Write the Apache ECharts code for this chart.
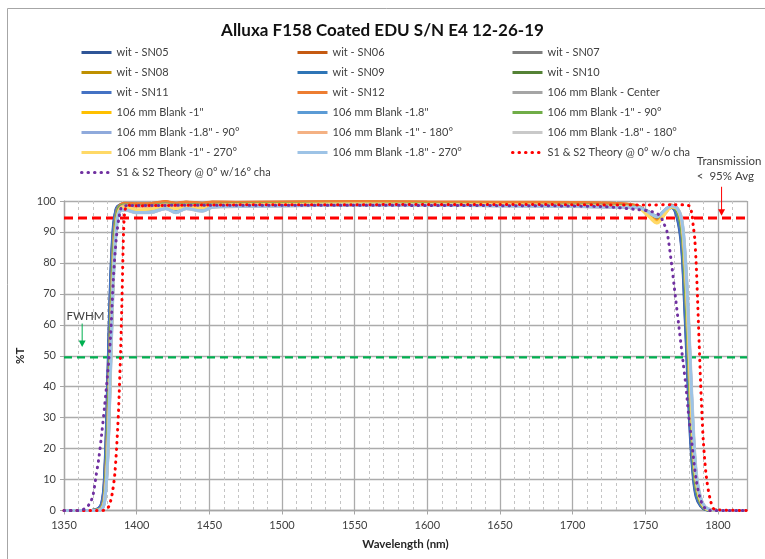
<!DOCTYPE html>
<html><head><meta charset="utf-8">
<script src="https://cdn.jsdelivr.net/npm/echarts@6/dist/echarts.min.js"></script>
<style>html,body{margin:0;padding:0;background:#fff}#c{width:765px;height:559px}</style>
</head><body><div id="c"></div>
<script>
// shared wavelength grid (nm) for the measured scans
const wavelengths = [1350,1365,1372,1376,1378,1380,1382,1384,1386,1388,1392,
  1400,1410,1420,1427,1434,1445,1452,1470,1500,1550,1600,1650,1700,1730,
  1745,1752,1758,1764,1768,1772,1775,1777,1779,1781,1783,1785,1788,1792,1800,1820];

const witSN05 = [0,0,0.3,2.5,12,40,74,92,97.6,98.6,99.0, 98.5,98.6,99.1,98.7,99.0,98.7,99.0,99.0,99.1,99.2,99.1,99.0,98.8,98.6, 97.9,96.3,94.8,96.9,97.9,94.5,85,67,45,24,11,4.5,1.5,0.2,0,0];
const witSN06 = [0,0,0.1,1.2,6,27,60,85,95.5,98.2,99.2, 99.0,99.1,99.7,99.2,99.6,99.2,99.6,99.5,99.6,99.7,99.6,99.5,99.4,99.1, 98.3,95.8,93.6,96.6,98.6,97,91,78,58,35,17,7.5,2.5,0.4,0,0];
const witSN07 = [0,0,0.1,1.0,5.5,26,59,84,95.2,98.1,98.8, 98.5,98.7,99.1,98.7,99.0,98.8,99.0,99.1,99.1,99.2,99.1,99.0,98.9,98.6, 98.1,96.6,95.0,97.2,98.2,96.5,90,77,57,34,16,7,2.5,0.4,0,0];
const witSN08 = [0,0,0.1,1.3,6.5,29,62,86,95.8,98.3,99.1, 98.9,99.0,99.6,99.1,99.5,99.1,99.5,99.4,99.5,99.6,99.5,99.4,99.3,99.0, 98.2,95.6,93.4,96.5,98.5,97.2,92,80,61,38,19,8.5,3,0.5,0,0];
const witSN09 = [0,0,0.2,2.0,10,36,70,90,97.2,98.5,98.9, 98.6,98.7,99.2,98.8,99.1,98.8,99.1,99.1,99.2,99.3,99.2,99.1,98.9,98.7, 98.0,96.5,94.9,97.1,98.1,96.0,88,74,53,31,14,6,2,0.3,0,0];
const witSN10 = [0,0,0.1,1.1,5.8,27,60,85,95.4,98.2,98.8, 98.4,98.6,99.0,98.6,98.9,98.7,98.9,99.0,99.0,99.1,99.0,98.9,98.8,98.5, 98.0,96.5,94.9,97.1,98.1,96.3,89.5,76,56,33,15.5,7,2.4,0.4,0,0];
const witSN11 = [0,0,0.3,2.3,11,38,72,91,97.4,98.5,98.9, 98.6,98.7,99.2,98.8,99.1,98.8,99.1,99.1,99.2,99.2,99.1,99.0,98.9,98.7, 98.0,96.4,94.9,97.0,98.0,95.0,86,69,47,26,12,5,1.8,0.3,0,0];
const witSN12 = [0,0,0.1,1.2,6,28,61,86,95.8,98.4,99.3, 99.1,99.2,99.8,99.3,99.7,99.3,99.7,99.6,99.7,99.8,99.7,99.6,99.5,99.2, 98.4,95.9,93.7,96.7,98.7,97.2,91.5,79,59,36,18,8,2.7,0.5,0,0];
const blankCenter = [0,0,0.1,1.0,5,25,58,84,95,98,98.7, 98.4,98.5,99.0,98.6,98.9,98.6,98.9,98.9,99.0,99.1,99.0,98.9,98.7,98.5, 98.0,96.6,95.1,97.2,98.2,96.8,91,78,58,35,17,7.5,2.6,0.4,0,0];
const blank1 = [0,0,0,0.7,4,19,50,79,93,97.4,98.6, 98.3,98.4,98.9,98.5,98.8,98.5,98.8,98.9,99.0,99.1,99.0,98.9,98.7,98.4, 98.0,95.5,93.3,96.3,98.3,97.3,92.5,81,62,39,20,9,3,0.5,0,0];
const blank18 = [0,0,0,0.6,3.5,17,47,77,92,96.8,97.4, 96.5,96.6,97.8,96.6,97.7,97.0,98.1,98.4,98.6,98.8,98.8,98.6,98.4,98.1, 97.9,96.4,94.9,97.2,98.3,97.5,93.5,84,68,46,25,11.5,4,0.8,0,0];
const blank1_90 = [0,0,0.1,0.9,5,24,57,83,94.8,98,98.7, 98.4,98.5,99.0,98.6,98.9,98.6,98.9,99.0,99.0,99.1,99.0,98.9,98.7,98.5, 98.0,96.4,94.8,97.0,98.1,96.6,90.5,77.5,57.5,34.5,16.5,7.2,2.5,0.4,0,0];
const blank18_90 = [0,0,0,0.5,3.2,16,45,75,91,96.5,97.2, 96.3,96.4,97.6,96.3,97.6,96.8,98.0,98.3,98.5,98.7,98.7,98.5,98.3,98.0, 97.9,96.4,95.0,97.3,98.4,97.6,94,85,69,47,26,12,4,0.8,0,0];
const blank1_180 = [0,0,0,0.6,3.8,18,48,78,92.5,97.2,98.5, 98.2,98.3,98.8,98.4,98.7,98.4,98.7,98.8,98.9,99.0,98.9,98.8,98.6,98.3, 97.9,95.3,93.0,96.2,98.2,97.4,93,82,64,41,21,9.5,3.2,0.6,0,0];
const blank18_180 = [0,0,0,0.5,3,15.5,44,74,90.5,96.3,97.0, 96.2,96.3,97.5,96.2,97.5,96.7,97.9,98.2,98.4,98.6,98.6,98.4,98.2,97.9, 97.8,96.3,94.9,97.2,98.3,97.7,94.5,86,71,49,28,13,4.5,0.9,0,0];
const blank1_270 = [0,0,0,0.6,3.6,17.5,47,77,92,97,98.0, 97.2,97.4,98.4,97.5,98.2,97.8,98.5,98.7,98.8,99.0,98.9,98.8,98.5,98.2, 97.8,95.2,92.9,96.1,98.1,97.5,93.5,83,65,42,22,10,3.4,0.6,0,0];
const blank18_270 = [0,0,0,0.5,3,16,46,76,91,96.5,97.2, 96.3,96.4,97.6,96.3,97.6,96.8,98.0,98.3,98.5,98.7,98.7,98.5,98.3,98.0, 97.9,96.5,95.0,97.3,98.4,97.6,94,85,69,47,26,12,4,0.8,0,0];

// theory curves
const theory0X = [1350,1376,1379,1381,1383,1385,1387,1388,1389,1390,1391,1392,1394,1400,1450,1500,1550,1600,1650,1700,1750,1770,1780,1782,1783,1784,1785,1786,1787,1788,1789,1790,1792,1795,1798,1820];
const theory0Y = [0,0,0.3,1.5,5,12,27,38,52,70,90,97,98.6,98.5,98.7,98.8,98.8,98.9,98.9,98.8,98.7,98.8,98.5,96,92,88,80,68,55,42,31,22,11,3,0.3,0];
const theory16X = [1350,1360,1365,1368,1370,1372,1374,1376,1378,1380,1382,1384,1386,1388,1390,1395,1450,1550,1650,1720,1745,1755,1760,1763,1765,1768,1770,1773,1776,1778,1780,1782,1785,1788,1791,1794,1820];
const theory16Y = [0,0,0.8,2.5,5,11,17,25,34,44,56,75,88,95,98.2,98.5,98.6,98.6,98.5,98.2,97.2,96.5,95.3,92.5,90,80,72,60,48,40,30,22,10,3.5,0.8,0,0];

// reference levels
const avgLevel = 94.5;
const fwhmLevel = 49.5;
const xTicks = {min: 1350, max: 1820, interval: 50};
const yTicks = {min: 0, max: 100, interval: 10};

const measured = [
  ['wit - SN05', witSN05, '#2F5597'],
  ['wit - SN06', witSN06, '#C55A11'],
  ['wit - SN07', witSN07, '#7F7F7F'],
  ['wit - SN08', witSN08, '#BF9000'],
  ['wit - SN09', witSN09, '#2E75B6'],
  ['wit - SN10', witSN10, '#548235'],
  ['wit - SN11', witSN11, '#4472C4'],
  ['wit - SN12', witSN12, '#ED7D31'],
  ['106 mm Blank - Center', blankCenter, '#A5A5A5'],
  ['106 mm Blank -1"', blank1, '#FFC000'],
  ['106 mm Blank -1.8"', blank18, '#5B9BD5'],
  ['106 mm Blank -1" - 90°', blank1_90, '#70AD47'],
  ['106 mm Blank -1.8" - 90°', blank18_90, '#8FAADC'],
  ['106 mm Blank -1" - 180°', blank1_180, '#F4B183'],
  ['106 mm Blank -1.8" - 180°', blank18_180, '#C9C9C9'],
  ['106 mm Blank -1" - 270°', blank1_270, '#FFD966'],
  ['106 mm Blank -1.8" - 270°', blank18_270, '#9DC3E6']
];
const theoryNoCha = 'S1 & S2 Theory @ 0° w/o cha';
const theoryCha = 'S1 & S2 Theory @ 0° w/16° cha';

const legendCols = [
  ['wit - SN05','wit - SN08','wit - SN11','106 mm Blank -1"','106 mm Blank -1.8" - 90°','106 mm Blank -1" - 270°', theoryCha],
  ['wit - SN06','wit - SN09','wit - SN12','106 mm Blank -1.8"','106 mm Blank -1" - 180°','106 mm Blank -1.8" - 270°'],
  ['wit - SN07','wit - SN10','106 mm Blank - Center','106 mm Blank -1" - 90°','106 mm Blank -1.8" - 180°', theoryNoCha]
];
const legendLefts = [80, 296, 511];

const FONT = 'Lato, "Liberation Sans", sans-serif';
const pairs = (xs, ys) => xs.map((x, i) => [x, ys[i]]);

const series = [];
series.push({
  name: '_avg', type: 'line', symbol: 'none', silent: true, z: 1,
  data: [[xTicks.min, avgLevel], [xTicks.max, avgLevel]],
  lineStyle: {color: '#FF0000', width: 2.8, type: [9, 5]}
});
series.push({
  name: '_fwhm', type: 'line', symbol: 'none', silent: true, z: 1,
  data: [[xTicks.min, fwhmLevel], [xTicks.max, fwhmLevel]],
  lineStyle: {color: '#00B050', width: 2.2, type: [8, 5]}
});
measured.forEach(([name, vals, color]) => {
  series.push({
    name, type: 'line', symbol: 'none', smooth: 0.35, z: 2,
    data: pairs(wavelengths, vals),
    itemStyle: {color},
    lineStyle: {color, width: 3}
  });
});
series.push({
  name: theoryNoCha, type: 'line', symbol: 'none', smooth: 0.3, z: 3,
  data: pairs(theory0X, theory0Y),
  itemStyle: {color: '#FF0000'},
  lineStyle: {color: '#FF0000', width: 3, type: [0.5, 6], cap: 'round'}
});
series.push({
  name: theoryCha, type: 'line', symbol: 'none', smooth: 0.3, z: 3,
  data: pairs(theory16X, theory16Y),
  itemStyle: {color: '#7030A0'},
  lineStyle: {color: '#7030A0', width: 3, type: [0.5, 6], cap: 'round'}
});

const legends = legendCols.map((col, i) => ({
  data: col, orient: 'vertical', left: legendLefts[i], top: 45.5, padding: 0,
  itemWidth: 30, itemHeight: 14, itemGap: 6, selectedMode: false,
  itemStyle: {opacity: 0},
  lineStyle: {width: 3},
  textStyle: {fontFamily: FONT, fontSize: 11, color: '#404040', lineHeight: 14}
}));

const chart = echarts.init(document.getElementById('c'), null, {renderer: 'canvas'});
chart.setOption({
  animation: false,
  backgroundColor: '#fff',
  title: {
    text: 'Alluxa F158 Coated EDU S/N E4 12-26-19', left: 'center', top: 17,
    textStyle: {fontFamily: FONT, fontSize: 17, fontWeight: 'bold', color: '#111'}
  },
  legend: legends,
  grid: {left: 64, right: 18, top: 201, bottom: 48.5},
  xAxis: {
    type: 'value', min: xTicks.min, max: xTicks.max, interval: xTicks.interval,
    name: 'Wavelength (nm)', nameLocation: 'middle', nameGap: 28,
    nameTextStyle: {fontFamily: FONT, fontSize: 11.5, fontWeight: 'bold', color: '#262626'},
    axisLine: {show: true, lineStyle: {color: '#A6A6A6', width: 1.3}},
    axisTick: {show: true, length: 4, lineStyle: {color: '#A6A6A6'}},
    axisLabel: {showMaxLabel: false, fontFamily: FONT, fontSize: 11, color: '#404040', margin: 9,
      formatter: v => String(v)},
    splitLine: {show: true, lineStyle: {color: '#ABABAB', width: 1.3}},
    minorTick: {show: false, splitNumber: 5},
    minorSplitLine: {show: true, lineStyle: {color: '#C4C4C4', width: 1, type: [3, 3]}}
  },
  yAxis: {
    type: 'value', min: yTicks.min, max: yTicks.max, interval: yTicks.interval,
    name: '%T', nameLocation: 'middle', nameGap: 34, nameRotate: 90,
    nameTextStyle: {fontFamily: FONT, fontSize: 11.5, fontWeight: 'bold', color: '#262626'},
    axisLine: {show: true, lineStyle: {color: '#A6A6A6', width: 1.3}},
    axisTick: {show: true, length: 4, lineStyle: {color: '#A6A6A6'}},
    axisLabel: {fontFamily: FONT, fontSize: 11, color: '#404040', margin: 8, formatter: v => String(v)},
    splitLine: {show: true, lineStyle: {color: '#ABABAB', width: 1.3}}
  },
  series
});

// annotations anchored in data coordinates
const annot = {
  transText: [1785.5, 112.7], avgText: [1785.5, 107.9],
  redArrow: [[1802.5, 104.6], [1802.5, 95.2]],
  fwhmText: [1351.8, 62.8],
  greenArrow: [[1362.5, 60.4], [1362.5, 52.8]]
};
const px = p => chart.convertToPixel({gridIndex: 0}, p);
function arrow(from, to, color) {
  const a = px(from), b = px(to);
  return [
    {type: 'line', shape: {x1: a[0], y1: a[1], x2: b[0], y2: b[1] - 5}, style: {stroke: color, lineWidth: 1}, z: 10},
    {type: 'polygon', shape: {points: [[b[0] - 3.5, b[1] - 6.5], [b[0] + 3.5, b[1] - 6.5], [b[0], b[1]]]}, style: {fill: color}, z: 10}
  ];
}
const t1 = px(annot.transText), t2 = px(annot.avgText), t3 = px(annot.fwhmText);
const graphics = [
  {type: 'rect', shape: {x: 7.5, y: 8.5, width: 800, height: 600}, style: {fill: 'none', stroke: '#A6A6A6', lineWidth: 1}, z: 0, silent: true},
  {type: 'text', x: t1[0], y: t1[1], style: {text: 'Transmission', fontFamily: FONT, fontSize: 11.5, fill: '#404040', textVerticalAlign: 'middle'}, z: 10},
  {type: 'text', x: t2[0], y: t2[1], style: {text: '<  95% Avg', fontFamily: FONT, fontSize: 11.5, fill: '#404040', textVerticalAlign: 'middle'}, z: 10},
  {type: 'text', x: t3[0], y: t3[1], style: {text: 'FWHM', fontFamily: FONT, fontSize: 11.5, fill: '#404040', textVerticalAlign: 'middle'}, z: 10}
].concat(arrow(annot.redArrow[0], annot.redArrow[1], '#FF0000'))
 .concat(arrow(annot.greenArrow[0], annot.greenArrow[1], '#00B050'));
chart.setOption({graphic: {elements: graphics}});
</script></body></html>
